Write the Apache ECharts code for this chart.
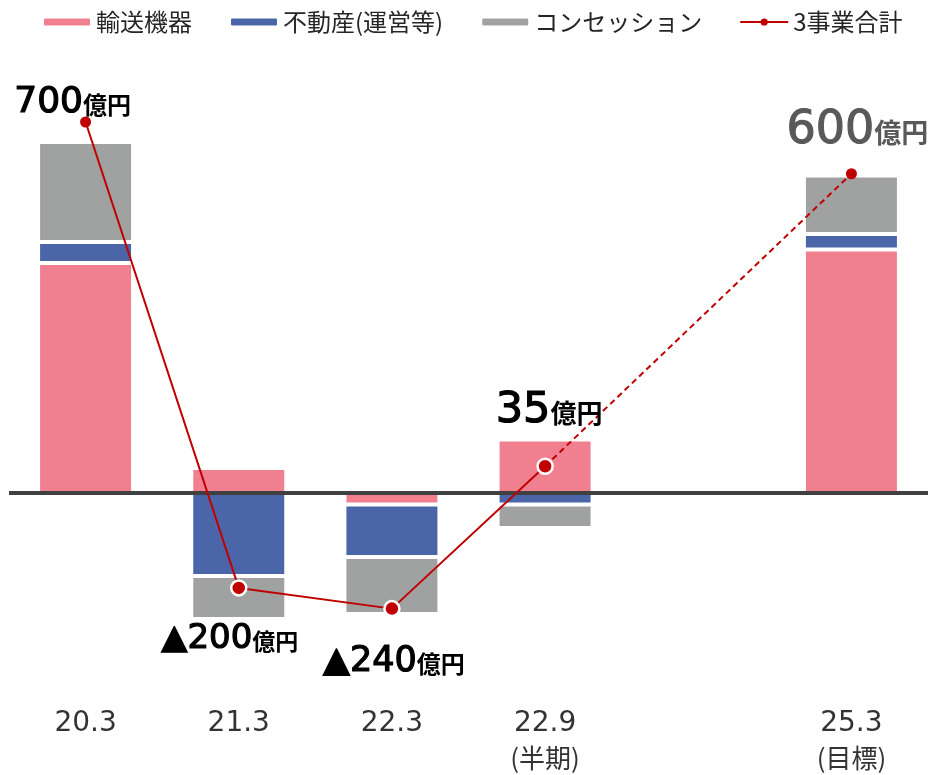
<!DOCTYPE html>
<html>
<head>
<meta charset="utf-8">
<script src="https://cdn.jsdelivr.net/npm/echarts@6/dist/echarts.min.js"></script>
<style>
  html, body { margin: 0; padding: 0; background: #fff; }
  #chart { width: 935px; height: 775px; }
</style>
</head>
<body>
<div id="chart"></div>
<script>
// Periods on the x axis (the empty slot leaves a gap before the target year)
const tickLabels = ['20.3', '21.3', '22.3', '22.9\n(半期)', '', '25.3\n(目標)'];

// Segment profits by business (億円)
const transport  = [460,   50,  -23,  107, null, 487];
const realEstate = [ 42, -166, -105,  -23, null,  31];
const concession = [200,  -86, -114,  -47, null, 117];

// Combined total of the three businesses: results, then the target
const totalResult = [700, -200, -240, 35, null, null];
const totalTarget = [null, null, null, 35, null, 600];

const seriesNames = ['輸送機器', '不動産(運営等)', 'コンセッション', '3事業合計'];
const unit = '億円';

// Label look for each labelled point: offset from the dot, font sizes, colour
const labelLook = {
  0: { offset: [-13, -19], num: 36, unit: 24, color: '#000' },
  1: { offset: [-9, 51],   num: 34, unit: 23, color: '#000' },
  2: { offset: [2, 53],    num: 35, unit: 24, color: '#000' },
  3: { offset: [4, -55],   num: 43, unit: 26, color: '#000' },
  5: { offset: [6, -43],   num: 46, unit: 27, color: '#595959' }
};

const RED = '#C00000';

function fmtTotal(v) {
  return v < 0 ? '\u25B2' + (-v) : String(v);
}

function pointLabel(i) {
  const look = labelLook[i];
  if (!look) return { show: false };
  return {
    show: true,
    position: 'inside',
    offset: look.offset,
    formatter: p => '{n|' + fmtTotal(p.value) + '}{u|' + unit + '}',
    rich: {
      n: {
        fontFamily: 'DejaVu Sans', fontSize: look.num, color: look.color,
        textBorderColor: look.color, textBorderWidth: 1.2
      },
      u: { fontFamily: 'Noto Sans CJK JP', fontWeight: 'bold', fontSize: look.unit, color: look.color, padding: [4, 0, 0, 0] }
    }
  };
}

function dotStyle(i, last) {
  const isEnd = i === 0 || i === last;
  return isEnd
    ? { symbolSize: 11, itemStyle: { color: RED, borderWidth: 0 } }
    : { symbolSize: 15, itemStyle: { color: RED, borderColor: '#fff', borderWidth: 2.5 } };
}

const lastIdx = tickLabels.length - 1;

const resultData = totalResult.map((v, i) => v == null ? null : Object.assign({
  value: v,
  label: pointLabel(i)
}, dotStyle(i, lastIdx)));

const targetData = totalTarget.map((v, i) => {
  if (v == null) return null;
  if (totalResult[i] != null) return { value: v, symbolSize: 0, label: { show: false } };
  return Object.assign({ value: v, label: pointLabel(i) }, dotStyle(i, lastIdx));
});

const barBase = {
  type: 'bar',
  stack: 'seg',
  yAxisIndex: 0,
  barWidth: 95,
  z: 2
};

const chart = echarts.init(document.getElementById('chart'), null, { renderer: 'canvas' });

chart.setOption({
  backgroundColor: '#fff',
  animation: false,
  textStyle: { fontFamily: 'Noto Sans CJK JP' },
  legend: {
    data: seriesNames,
    top: 5,
    left: 37,
    itemWidth: 48,
    itemHeight: 9,
    itemGap: 37,
    textStyle: { fontSize: 24, color: '#262626', fontFamily: 'Noto Sans CJK JP' }
  },
  grid: { left: 9, right: 7, top: 93, bottom: 82 },
  xAxis: {
    type: 'category',
    data: tickLabels,
    axisLine: { show: false },
    axisTick: { show: false },
    splitLine: { show: false },
    axisLabel: {
      interval: 0,
      fontSize: 28,
      lineHeight: 34,
      margin: 14,
      color: '#333',
      fontFamily: 'DejaVu Sans, Noto Sans CJK JP',
      formatter: v => {
        const parts = v.split('\n');
        return parts.map((s, k) => k === 0 ? '{d|' + s + '}' : '{c|' + s + '}').join('\n');
      },
      rich: {
        d: { fontSize: 28, lineHeight: 34, color: '#333', fontFamily: 'DejaVu Sans' },
        c: { fontSize: 26, lineHeight: 34, color: '#333', fontFamily: 'Noto Sans CJK JP' }
      }
    }
  },
  yAxis: [
    { type: 'value', min: -400, max: 800, show: false, splitLine: { show: false } },
    { type: 'value', min: -403, max: 756, show: false, splitLine: { show: false } }
  ],
  series: [
    Object.assign({}, barBase, {
      name: seriesNames[0],
      data: transport,
      itemStyle: { color: '#F0808F', borderColor: '#fff', borderWidth: 2 },
      markLine: {
        silent: true,
        symbol: 'none',
        label: { show: false },
        lineStyle: { color: '#404040', width: 4, type: 'solid' },
        data: [{ yAxis: 0 }]
      }
    }),
    Object.assign({}, barBase, {
      name: seriesNames[1],
      data: realEstate,
      itemStyle: { color: '#4A66A8', borderColor: '#fff', borderWidth: 2 }
    }),
    Object.assign({}, barBase, {
      name: seriesNames[2],
      data: concession,
      itemStyle: { color: '#A0A2A1', borderColor: '#fff', borderWidth: 2 }
    }),
    {
      type: 'line',
      name: seriesNames[3],
      yAxisIndex: 1,
      z: 6,
      symbol: 'circle',
      data: resultData,
      lineStyle: { color: RED, width: 2 },
      itemStyle: { color: RED }
    },
    {
      type: 'line',
      name: seriesNames[3],
      yAxisIndex: 1,
      z: 5,
      symbol: 'circle',
      connectNulls: true,
      data: targetData,
      lineStyle: { color: RED, width: 2, type: [6, 4] },
      itemStyle: { color: RED }
    }
  ]
});
</script>
</body>
</html>
